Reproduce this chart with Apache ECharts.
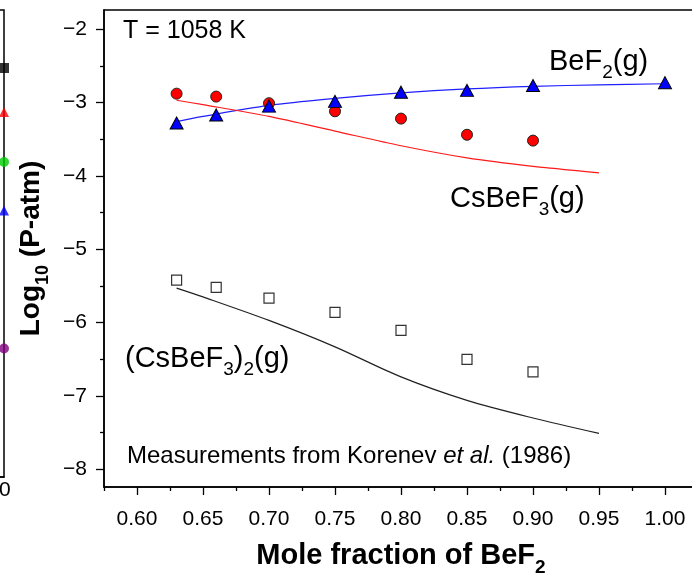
<!DOCTYPE html>
<html><head><meta charset="utf-8">
<script src="https://cdn.jsdelivr.net/npm/echarts@6/dist/echarts.min.js"></script>
<style>html,body{margin:0;padding:0;background:#fff}#c{width:692px;height:573px}</style>
</head><body><div id="c"></div>
<script>
// measured points (Korenev et al. 1986)
const xMeas = [0.63, 0.66, 0.70, 0.75, 0.80, 0.85, 0.90];
const xMeasBeF2 = [0.63, 0.66, 0.70, 0.75, 0.80, 0.85, 0.90, 1.00];
const bef2Meas = [-3.28, -3.17, -3.05, -2.985, -2.86, -2.835, -2.77, -2.73];
const csbef3Meas = [-2.88, -2.92, -3.01, -3.12, -3.22, -3.44, -3.52];
const dimerMeas = [-5.42, -5.52, -5.665, -5.86, -6.105, -6.50, -6.67];
// calculated curves
const xCalc = [0.63, 0.65, 0.70, 0.75, 0.80, 0.85, 0.90, 0.95];
const xCalcBeF2 = [0.63, 0.65, 0.70, 0.75, 0.80, 0.85, 0.90, 0.95, 1.00];
const bef2Calc = [-3.26, -3.19, -3.04, -2.945, -2.87, -2.815, -2.78, -2.76, -2.745];
const csbef3Calc = [-2.97, -3.03, -3.19, -3.39, -3.59, -3.755, -3.87, -3.96];
const dimerCalc = [-5.53, -5.65, -5.97, -6.33, -6.74, -7.06, -7.30, -7.51];
// neighbouring panel (cut at left edge)
const nbColors = ['#000000', '#ff0000', '#00cc00', '#0000ff', '#800080'];
const nbSymbols = ['rect', 'triangle', 'circle', 'triangle', 'circle'];
const nbValues = [-2.53, -3.13, -3.81, -4.47, -6.35];
// ticks
const xTickValues = [0.60, 0.65, 0.70, 0.75, 0.80, 0.85, 0.90, 0.95, 1.00];
const xMinorTicks = [0.575, 0.625, 0.675, 0.725, 0.775, 0.825, 0.875, 0.925, 0.975, 1.025];
const yTickValues = [-8, -7, -6, -5, -4, -3, -2];
const yMinorTicks = [-7.5, -6.5, -5.5, -4.5, -3.5, -2.5];

const FF = 'Liberation Sans, Arial, sans-serif';
const zip = (xs, ys) => xs.map((x, i) => [x, ys[i]]);
const subRich = (size, color) => ({
  n: {fontSize: size, fontFamily: FF, color: color, lineHeight: Math.round(size * 1.45), verticalAlign: 'middle'},
  s: {fontSize: Math.round(size * 0.65), fontFamily: FF, color: color, lineHeight: Math.round(size * 1.45), verticalAlign: 'bottom'},
  i: {fontSize: size, fontFamily: FF, color: color, fontStyle: 'italic', lineHeight: Math.round(size * 1.45), verticalAlign: 'middle'}
});
const boldRich = (size) => ({
  n: {fontSize: size, fontFamily: FF, fontWeight: 'bold', color: '#000', lineHeight: Math.round(size * 1.45), verticalAlign: 'middle'},
  s: {fontSize: Math.round(size * 0.65), fontFamily: FF, fontWeight: 'bold', color: '#000', lineHeight: Math.round(size * 1.45), verticalAlign: 'bottom'}
});

const chart = echarts.init(document.getElementById('c'), null, {renderer: 'canvas'});
const lineAxis = {show: true, lineStyle: {color: '#000', width: 1.5}};
const option = {
  animation: false,
  backgroundColor: '#fff',
  grid: [
    {left: 104, top: 10, width: 594, bottom: 86, show: true, borderColor: '#000', borderWidth: 1.5, backgroundColor: 'transparent', containLabel: false, outerBoundsMode: 'none'},
    {left: -300, top: 10, width: 304, bottom: 96, show: true, borderColor: '#000', borderWidth: 1.5, backgroundColor: 'transparent', containLabel: false, outerBoundsMode: 'none'}
  ],
  xAxis: [
    {type: 'value', gridIndex: 0, min: 0.575, max: 1.025, position: 'bottom',
     axisLine: lineAxis,
     axisTick: {show: true, inside: false, length: 8, customValues: xTickValues, lineStyle: {color: '#000', width: 1.3}},
     axisLabel: {show: true, customValues: xTickValues, formatter: v => v.toFixed(2), fontSize: 21, fontFamily: FF, color: '#000', margin: 22},
     splitLine: {show: false},
     name: '{n|Mole fraction of BeF}{s|2}', nameLocation: 'middle', nameGap: 48,
     nameTextStyle: {rich: boldRich(29)}},
    {type: 'value', gridIndex: 0, min: 0.575, max: 1.025, position: 'bottom',
     axisLine: {show: false},
     axisTick: {show: true, inside: false, length: 4, customValues: xMinorTicks, lineStyle: {color: '#000', width: 1.3}},
     axisLabel: {show: false}, splitLine: {show: false}},
    {type: 'value', gridIndex: 1, min: 0, max: 1, position: 'bottom',
     axisLine: lineAxis,
     axisTick: {show: false},
     axisLabel: {show: true, customValues: [1], formatter: () => '1.0', fontSize: 21, fontFamily: FF, color: '#000', margin: 3, padding: [0, 16, 0, 0]},
     splitLine: {show: false}}
  ],
  yAxis: [
    {type: 'value', gridIndex: 0, min: -8.24, max: -1.74, position: 'left',
     axisLine: lineAxis,
     axisTick: {show: true, inside: false, length: 8, customValues: yTickValues, lineStyle: {color: '#000', width: 1.3}},
     axisLabel: {show: true, customValues: yTickValues, formatter: v => (v < 0 ? '\u2212' : '') + Math.abs(v), fontSize: 21, fontFamily: FF, color: '#000', margin: 17},
     splitLine: {show: false},
     name: '{n|Log}{s|10}{n| (P-atm)}', nameLocation: 'middle', nameGap: 46, nameRotate: 90,
     nameTextStyle: {rich: boldRich(28)}},
    {type: 'value', gridIndex: 0, min: -8.24, max: -1.74, position: 'left',
     axisLine: {show: false},
     axisTick: {show: true, inside: false, length: 4, customValues: yMinorTicks, lineStyle: {color: '#000', width: 1.3}},
     axisLabel: {show: false}, splitLine: {show: false}},
    {type: 'value', gridIndex: 1, min: -8.1, max: -1.74, show: false}
  ],
  series: [
    {type: 'line', xAxisIndex: 0, yAxisIndex: 0, data: zip(xCalcBeF2, bef2Calc), smooth: 0.3, symbol: 'none', lineStyle: {color: '#2020ff', width: 1.2}, z: 2},
    {type: 'line', xAxisIndex: 0, yAxisIndex: 0, data: zip(xCalc, csbef3Calc), smooth: 0.3, symbol: 'none', lineStyle: {color: '#ff1a1a', width: 1.2}, z: 2},
    {type: 'line', xAxisIndex: 0, yAxisIndex: 0, data: zip(xCalc, dimerCalc), smooth: 0.3, symbol: 'none', lineStyle: {color: '#222', width: 1.2}, z: 2},
    {type: 'scatter', xAxisIndex: 0, yAxisIndex: 0, data: zip(xMeas, csbef3Meas), symbol: 'circle', symbolSize: 11,
     itemStyle: {color: '#ff0000', borderColor: '#222', borderWidth: 1, opacity: 1}, z: 3},
    {type: 'scatter', xAxisIndex: 0, yAxisIndex: 0, data: zip(xMeasBeF2, bef2Meas), symbol: 'triangle', symbolSize: [13, 12],
     itemStyle: {color: '#0000ff', borderColor: '#000', borderWidth: 1, opacity: 1}, z: 4},
    {type: 'scatter', xAxisIndex: 0, yAxisIndex: 0, data: zip(xMeas, dimerMeas), symbol: 'rect', symbolSize: 10,
     itemStyle: {color: '#fff', borderColor: '#333', borderWidth: 1.2, opacity: 1}, z: 3},
    {type: 'scatter', xAxisIndex: 2, yAxisIndex: 2, clip: false, symbolSize: 10,
     data: nbValues.map((v, i) => ({value: [1, v], symbol: nbSymbols[i], itemStyle: {color: nbColors[i]}})), z: 3}
  ],
  graphic: [
    {type: 'text', left: 123, top: 19, style: {text: 'T = 1058 K', fontSize: 25, fontFamily: FF, fill: '#000'}},
    {type: 'text', left: 549, top: 47, style: {text: '{n|BeF}{s|2}{n|(g)}', rich: subRich(29, '#0000ff')}},
    {type: 'text', left: 450, top: 184, style: {text: '{n|CsBeF}{s|3}{n|(g)}', rich: subRich(29, '#ff0000')}},
    {type: 'text', left: 125, top: 344, style: {text: '{n|(CsBeF}{s|3}{n|)}{s|2}{n|(g)}', rich: subRich(29, '#000')}},
    {type: 'text', left: 127, top: 444, style: {text: '{n|Measurements from Korenev }{i|et al.}{n| (1986)}', rich: subRich(24, '#000')}}
  ]
};
chart.setOption(option);
</script>
</body></html>
